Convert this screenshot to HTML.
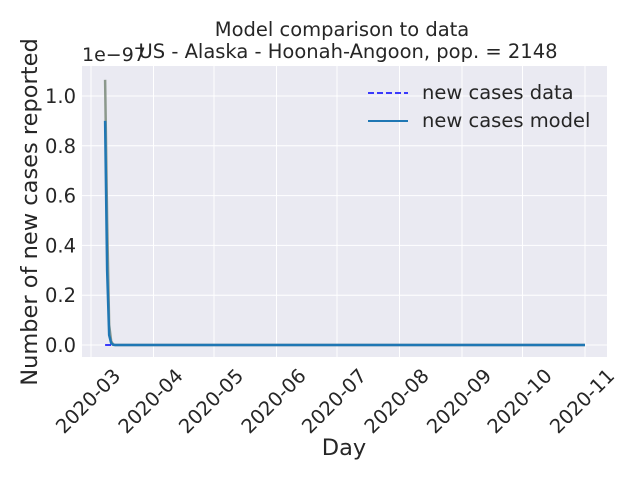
<!DOCTYPE html>
<html><head><meta charset="utf-8"><style>
body{margin:0;background:#fff;}
svg{font-family:"DejaVu Sans","Liberation Sans",sans-serif;}
</style></head><body>
<svg id="chart" width="640" height="480" viewBox="0 0 640 480" xmlns="http://www.w3.org/2000/svg">
<rect x="82" y="66" width="525" height="291" fill="#eaeaf2"/>
<g id="grid"></g>
<g id="series"></g>
<g id="ticks"></g>
<text x="342" y="36" text-anchor="middle" font-size="19.5" fill="#262626">Model comparison to data</text>
<text x="348" y="58" text-anchor="middle" font-size="19.5" fill="#262626">US - Alaska - Hoonah-Angoon, pop. = 2148</text>
<text x="82" y="61" font-size="19" fill="#262626">1e−97</text>
<text x="344" y="455" text-anchor="middle" font-size="22.5" fill="#262626">Day</text>
<text transform="translate(37,212) rotate(-90)" text-anchor="middle" font-size="22.5" fill="#262626">Number of new cases reported</text>
<g>
<line x1="368" y1="93" x2="408" y2="93" stroke="#0000ff" stroke-width="1.6" stroke-dasharray="6,3"/>
<text x="422" y="99" font-size="19.5" fill="#262626">new cases data</text>
<line x1="368" y1="121" x2="408" y2="121" stroke="#1f77b4" stroke-width="2"/>
<text x="422" y="127" font-size="19.5" fill="#262626">new cases model</text>
</g>
</svg>
<script>
const monthLabels=["2020-03","2020-04","2020-05","2020-06","2020-07","2020-08","2020-09","2020-10","2020-11"];
const monthDays=[0,31,61,92,122,153,184,214,245]; // days since 2020-03-01
const yTicks=[0.0,0.2,0.4,0.6,0.8,1.0];
const startDay=7; // 2020-03-08
const modelHead=[0.9,0.3,0.04,0.008,0.001];
const upperHead=[1.065,0.5,0.08,0.015,0.002];
const tailLength=234;
const modelValues=modelHead.concat(new Array(tailLength).fill(0));
const upperValues=upperHead.concat(new Array(tailLength).fill(0));
const dataValues=new Array(modelHead.length+tailLength).fill(0);

const NS="http://www.w3.org/2000/svg";
const xS=d=>91+d*(585-91)/245;
const yS=v=>345-v*(345-96);
function mk(tag,attrs,parent){const e=document.createElementNS(NS,tag);for(const k in attrs)e.setAttribute(k,attrs[k]);parent.appendChild(e);return e;}
const grid=document.getElementById('grid'),ticks=document.getElementById('ticks'),ser=document.getElementById('series');
monthDays.forEach((d,i)=>{
 const g=mk('line',{x1:xS(d),x2:xS(d),y1:66,y2:357,stroke:'#fff','stroke-width':1},grid);
 
 
 const x=xS(d)-3,y=401;
 const t=mk('text',{x:x,y:y,'text-anchor':'middle','font-size':19.5,fill:'#262626',transform:`rotate(-45 ${x} ${y})`,dy:'0.35em'},ticks);
 t.textContent=monthLabels[i];
 
 
});
yTicks.forEach(v=>{
 const g=mk('line',{x1:82,x2:607,y1:yS(v),y2:yS(v),stroke:'#fff','stroke-width':1},grid);
 
 
 const t=mk('text',{x:76,y:yS(v)+7,'text-anchor':'end','font-size':19.5,fill:'#262626'},ticks);
 t.textContent=v.toFixed(1);
 
 
});
function pts(arr){return arr.map((v,i)=>xS(startDay+i).toFixed(2)+','+yS(v).toFixed(2)).join(' ');}
const up=mk('polyline',{points:pts(upperValues),fill:'none',stroke:'#7a8a7a','stroke-width':2.5,opacity:0.85},ser);


const dl=mk('polyline',{points:pts(dataValues),fill:'none',stroke:'#0000ff','stroke-width':1.6,'stroke-dasharray':'6,3'},ser);


const ml=mk('polyline',{points:pts(modelValues),fill:'none',stroke:'#1f77b4','stroke-width':2.5},ser);


</script>
</body></html>
